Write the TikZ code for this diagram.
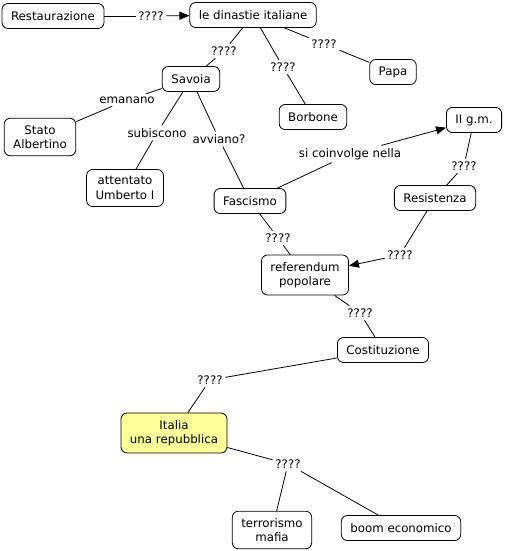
\documentclass[tikz,border=0pt]{standalone}
\usepackage{fontspec}
\setmainfont{DejaVu Sans}
\usetikzlibrary{arrows.meta, positioning}
\definecolor{cline}{HTML}{000000}
\definecolor{cyellow}{HTML}{FFFF99}
\tikzset{
  every picture/.style={font=\fontsize{11.8}{14.5}\selectfont, line width=0.8pt},
  concept/.style={draw=cline, fill=#1, rounded corners=6pt, align=center, inner xsep=9pt, inner ysep=7pt, minimum height=25pt},
  concept/.default=white,
  linkword/.style={inner sep=2.5pt, align=center},
  link/.style={draw=cline, line width=0.8pt},
  linkarrow/.style={link, -{Triangle[length=10pt, width=8pt]}},
}

\begin{document}
\begin{tikzpicture}[x=1pt, y=-1pt]
  \useasboundingbox (0,0) rectangle (506,551);
  % concepts
  \node[concept] (restaur) at (53,16) {Restaurazione};
  \node[concept] (dinastie) at (253,15) {le dinastie italiane};
  \node[concept] (savoia) at (191,79) {Savoia};
  \node[concept] (papa) at (393,72) {Papa};
  \node[concept] (borbone) at (313,117) {Borbone};
  \node[concept] (stato) at (40,137) {Stato\\Albertino};
  \node[concept] (attentato) at (125,188) {attentato\\Umberto I};
  \node[concept] (fascismo) at (250,201) {Fascismo};
  \node[concept] (iigm) at (474,120) {II g.m.};
  \node[concept] (resist) at (435,198) {Resistenza};
  \node[concept] (refer) at (305,275) {referendum\\popolare};
  \node[concept] (costit) at (383,350) {Costituzione};
  \node[concept=cyellow, minimum width=106pt] (italia) at (174,433) {Italia\\una repubblica};
  \node[concept] (terror) at (272,530) {terrorismo\\mafia};
  \node[concept] (boom) at (401,528) {boom economico};
  % linking phrases
  \node[linkword] (q1) at (151,16) {????};
  \node[linkword] (q2) at (224,51) {????};
  \node[linkword] (q3) at (283,67) {????};
  \node[linkword] (q4) at (324,44) {????};
  \node[linkword] (emanano) at (127,100) {emanano};
  \node[linkword] (subiscono) at (157,133) {subiscono};
  \node[linkword] (avviano) at (219,139) {avviano?};
  \node[linkword] (coinvolge) at (350,154) {si coinvolge nella};
  \node[linkword] (q5) at (464,166) {????};
  \node[linkword] (q6) at (278,238) {????};
  \node[linkword] (q7) at (400,255) {????};
  \node[linkword] (q8) at (360,313) {????};
  \node[linkword] (q9) at (210,380) {????};
  \node[linkword] (q10) at (288,464) {????};
  % connectors
  \draw[link] (restaur) -- (q1);
  \draw[linkarrow] (q1) -- (dinastie);
  \draw[link] (dinastie) -- (q2) -- (savoia);
  \draw[link] (dinastie) -- (q3) -- (borbone);
  \draw[link] (dinastie) -- (q4) -- (papa);
  \draw[link] (savoia) -- (emanano) -- (stato);
  \draw[link] (savoia) -- (subiscono) -- (attentato);
  \draw[link] (savoia) -- (avviano) -- (fascismo);
  \draw[link] (fascismo) -- (coinvolge);
  \draw[linkarrow] (coinvolge) -- (iigm);
  \draw[link] (iigm) -- (q5) -- (resist);
  \draw[link] (fascismo) -- (q6) -- (refer);
  \draw[link] (resist) -- (q7);
  \draw[linkarrow] (q7) -- (refer);
  \draw[link] (refer) -- (q8) -- (costit);
  \draw[link] (costit) -- (q9) -- (italia);
  \draw[link] (italia) -- (q10);
  \draw[link] (q10) -- (terror);
  \draw[link] (q10) -- (boom);
\end{tikzpicture}
\end{document}
